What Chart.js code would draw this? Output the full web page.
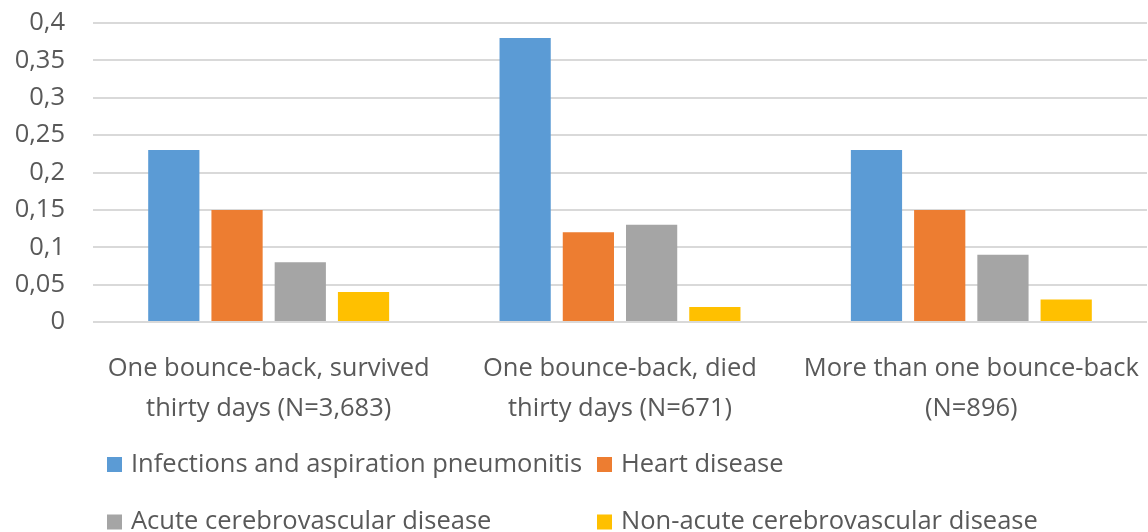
<!DOCTYPE html>
<html>
<head>
<meta charset="utf-8">
<style>
  html, body { margin: 0; padding: 0; background: #fff; }
  #wrap { width: 1148px; height: 532px; position: relative; }
</style>
<script src="https://cdn.jsdelivr.net/npm/chart.js@4.4.0/dist/chart.umd.min.js"></script>
</head>
<body>
<div id="wrap"><canvas id="chart"></canvas></div>
<script>
const categories = [
  ["One bounce-back, survived", "thirty days (N=3,683)"],
  ["One bounce-back, died", "thirty days (N=671)"],
  ["More than one bounce-back", "(N=896)"]
];
const seriesNames = [
  "Infections and aspiration pneumonitis",
  "Heart disease",
  "Acute cerebrovascular disease",
  "Non-acute cerebrovascular disease"
];
const infections = [0.23, 0.38, 0.23];
const heart = [0.15, 0.12, 0.15];
const acuteCV = [0.08, 0.13, 0.09];
const nonAcuteCV = [0.04, 0.02, 0.03];
const yTickLabels = ["0", "0,05", "0,1", "0,15", "0,2", "0,25", "0,3", "0,35", "0,4"];

const colors = ["#5B9BD5", "#ED7D31", "#A5A5A5", "#FFC000"];
const textColor = "#595959";
const FONT = "'Open Sans', sans-serif";
const FONT_SIZE = 25.5;

// legend laid out in two fixed columns, like the original
const gridLegend = {
  id: "gridLegend",
  afterDraw(chart) {
    const ctx = chart.ctx;
    const cols = [107, 597];
    const rows = [464.5, 522];
    ctx.save();
    ctx.font = FONT_SIZE + "px " + FONT;
    ctx.textBaseline = "middle";
    ctx.textAlign = "left";
    chart.data.datasets.forEach((ds, i) => {
      const x = cols[i % 2];
      const y = rows[Math.floor(i / 2)];
      ctx.fillStyle = ds.backgroundColor;
      ctx.fillRect(x, y - 7.5, 15, 15);
      ctx.fillStyle = textColor;
      ctx.fillText(ds.label, x + 24, y);
    });
    ctx.restore();
  }
};

const seriesData = [infections, heart, acuteCV, nonAcuteCV];

new Chart(document.getElementById("chart"), {
  type: "bar",
  data: {
    labels: categories,
    datasets: seriesNames.map((name, i) => ({
      label: name,
      data: seriesData[i],
      backgroundColor: colors[i],
      categoryPercentage: 0.72,
      barPercentage: 0.81
    }))
  },
  options: {
    responsive: true,
    maintainAspectRatio: false,
    animation: false,
    layout: { padding: { top: 23, right: 1, bottom: 0, left: 0 } },
    plugins: {
      legend: { display: false },
      tooltip: { enabled: false }
    },
    scales: {
      x: {
        grid: { display: false },
        border: { display: false },
        ticks: {
          color: textColor,
          font: { family: FONT, size: FONT_SIZE, lineHeight: 40 / FONT_SIZE },
          padding: 19,
          maxRotation: 0
        },
        afterFit(scale) {
          scale.height = 210;
          scale.paddingLeft = 0;
          scale.paddingRight = 0;
        }
      },
      y: {
        min: 0,
        max: 0.4,
        border: { display: false },
        grid: { color: "#D9D9D9", lineWidth: 2, drawTicks: false },
        ticks: {
          stepSize: 0.05,
          color: textColor,
          font: { family: FONT, size: FONT_SIZE },
          padding: 28,
          callback: (v, i) => yTickLabels[i]
        },
        afterFit(scale) {
          scale.width = 93;
          scale.paddingTop = 0;
          scale.paddingBottom = 0;
        }
      }
    }
  },
  plugins: [gridLegend]
});
</script>
</body>
</html>
